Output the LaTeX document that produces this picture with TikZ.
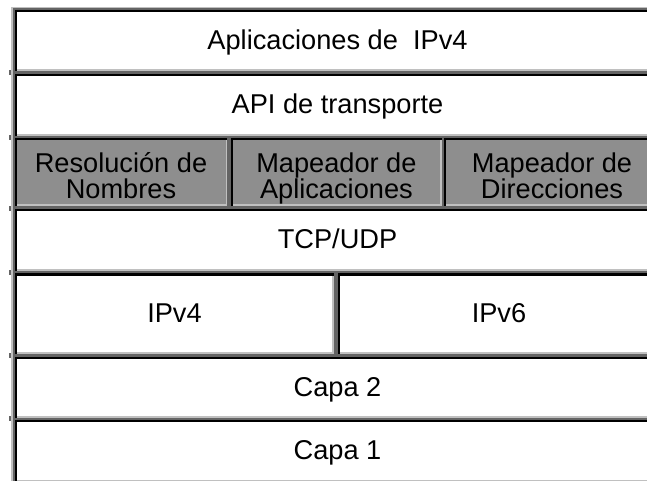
\documentclass[tikz,border=0pt]{standalone}
\usepackage{fontspec}
\setmainfont{Liberation Sans}
\definecolor{spacer}{RGB}{100,100,100}
\definecolor{edgelight}{RGB}{192,192,192}
\definecolor{cellgray}{RGB}{142,142,142}
\newcommand\tcell[5]{%
  \fill[#5] (#1,#2) rectangle (#3,#4);
  \fill[edgelight] (#1,#4-1.6) rectangle (#3,#4);
  \fill[edgelight] (#3-1.6,#2) rectangle (#3,#4);
  \fill[black] (#1,#2) rectangle (#3,#2+2.2);
  \fill[black] (#1,#2) rectangle (#1+2,#4);
}
\newcommand\ltick[1]{\fill[spacer] (9,#1) rectangle (11,#1+5);}
\begin{document}
\begin{tikzpicture}[x=1pt,y=-1pt,
  lbl/.style={font=\fontsize{27.2}{25.7}\selectfont, inner sep=0pt, align=center, anchor=base}]
\useasboundingbox (0,0) rectangle (647,481);
\clip (0,0) rectangle (647,481);
\fill[spacer] (11,7) rectangle (665,490);
\fill[edgelight] (11,7) rectangle (13,490);
\fill[edgelight] (11,7) rectangle (665,8.2);
\ltick{70.5}\ltick{135}\ltick{205.5}\ltick{270}\ltick{352.5}\ltick{416}
% rows
\tcell{15}{10}{660}{71}{white}
\tcell{15}{74}{660}{136}{white}
\tcell{15}{138}{227.3}{206}{cellgray}
\tcell{231}{138}{441.7}{206}{cellgray}
\tcell{444.3}{138}{660}{206}{cellgray}
\tcell{15}{208.5}{660}{271}{white}
\tcell{15}{273.3}{334}{353.5}{white}
\tcell{338.3}{273.3}{660}{353.5}{white}
\tcell{15}{356.5}{660}{417.7}{white}
\tcell{15}{420}{660}{481.5}{white}
% labels
\node[lbl] (app) at (337.5,50) {Aplicaciones de\ \ IPv4};
\node[lbl] (api) at (337.5,113.5) {API de transporte};
\node[lbl] (res) at (121,198.3) {Resolución de\\Nombres};
\node[lbl] (mapa) at (336.4,198.3) {Mapeador de\\Aplicaciones};
\node[lbl] (mapd) at (552,198.3) {Mapeador de\\Direcciones};
\node[lbl] (tcp) at (337.5,248.3) {TCP/UDP};
\node[lbl] (ipv4) at (174.5,322.7) {IPv4};
\node[lbl] (ipv6) at (499,322.7) {IPv6};
\node[lbl] (capa2) at (337.5,396) {Capa 2};
\node[lbl] (capa1) at (337.5,459.3) {Capa 1};
\end{tikzpicture}
\end{document}
